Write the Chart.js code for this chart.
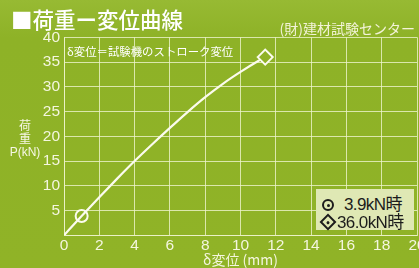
<!DOCTYPE html>
<html>
<head>
<meta charset="utf-8">
<script src="https://cdn.jsdelivr.net/npm/chart.js@4/dist/chart.umd.min.js"></script>
<style>
  html, body { margin: 0; padding: 0; overflow: hidden; }
  #wrap {
    position: relative; width: 419px; height: 268px;
    background: linear-gradient(to bottom, #97ba33 0%, #8eb227 14%, #90b327 100%);
    font-family: "Noto Sans CJK JP", "Liberation Sans", sans-serif;
    color: #f6f7e4;
  }
  #wrap canvas { position: absolute; left: 0; top: 0; }
  .lbl { position: absolute; white-space: nowrap; line-height: 1; }
  #title { left: 11px; top: 8px; font-size: 21.5px; font-weight: 500; color: #fff; }
  #org { right: 4px; top: 21px; font-size: 14px; color: #f3f3d8; }
  #note { left: 67px; top: 46px; font-size: 11.4px; color: #fff; }
  #ylab { left: 9px; top: 118px; width: 32px; text-align: center; font-size: 12px; line-height: 13px; }
  #ylab span { font-family: "Liberation Sans", sans-serif; }
  #legend {
    position: absolute; left: 316px; top: 189px; width: 98px; height: 41px;
    background: #dfe8b4; color: #1c1c1c;
    font-family: "Liberation Sans", "Noto Sans CJK JP", sans-serif; font-size: 17px; line-height: 17px;
    letter-spacing: -0.6px;
  }
  #legend .txt { position: absolute; white-space: nowrap; }
  #legend .mk { position: absolute; box-sizing: border-box; border: 2px solid #1c1c1c; }
  #legend .mk::after {
    content: ''; position: absolute; left: 50%; top: 50%; width: 3px; height: 3px;
    margin: -1.5px 0 0 -1.5px; background: #1c1c1c; border-radius: 50%;
  }
  #legend .circle { left: 6px; top: 10px; width: 12px; height: 12px; border-radius: 50%; }
  #legend .diamond { left: 5.5px; top: 27.3px; width: 12px; height: 12px; transform: rotate(45deg); }
</style>
</head>
<body>
<div id="wrap">
  <canvas id="chart" width="419" height="268"></canvas>
  <div class="lbl" id="title">■荷重ー変位曲線</div>
  <div class="lbl" id="org">(財)建材試験センター</div>
  <div class="lbl" id="note">δ変位＝試験機のストローク変位</div>
  <div class="lbl" id="ylab">荷<br>重<br><span>P(kN)</span></div>
  <div id="legend"></div>
</div>
<script>
// load-displacement curve
const dispMm = [0, 1, 2, 3, 4, 5, 6, 7, 8, 9, 10, 11, 11.4];
const loadKn = [0, 3.9, 7.7, 11.4, 15.0, 18.4, 21.7, 24.9, 27.9, 30.6, 33.0, 35.2, 36.0];

// marked points
const markX = [1.0, 11.4];
const markY = [3.9, 36.0];
const markLabels = ['3.9kN時', '36.0kN時'];

const xTicks = [0, 2, 4, 6, 8, 10, 12, 14, 16, 18, 20];
const yTicks = [0, 5, 10, 15, 20, 25, 30, 35, 40];

const bgGreen = '#8fb226';
const gridColor = 'rgba(238, 244, 205, 0.8)';
const textColor = '#f4f6df';

// legend box: marker shape + label per row
const legendRows = [
  { cls: 'circle', left: 28, top: 7 },
  { cls: 'diamond', left: 21, top: 24.8 }
];
document.getElementById('legend').innerHTML = markLabels.map((t, i) =>
  '<div class="mk ' + legendRows[i].cls + '"></div>' +
  '<div class="txt" style="left:' + legendRows[i].left + 'px;top:' + legendRows[i].top + 'px">' + t + '</div>'
).join('');

new Chart(document.getElementById('chart'), {
  type: 'line',
  data: {
    datasets: [
      {
        type: 'scatter',
        data: markX.map((x, i) => ({ x: x, y: markY[i] })),
        pointStyle: ['circle', 'rectRot'],
        pointRadius: [6, 7.5],
        pointBorderWidth: 2,
        pointBorderColor: '#fbfbee',
        pointBackgroundColor: ['rgba(0,0,0,0)', bgGreen],
        showLine: false,
        order: 0
      },
      {
        data: dispMm.map((x, i) => ({ x: x, y: loadKn[i] })),
        borderColor: '#fbfbee',
        borderWidth: 2.2,
        pointRadius: 0,
        cubicInterpolationMode: 'monotone',
        fill: false,
        order: 1
      }
    ]
  },
  options: {
    responsive: false,
    animation: false,
    events: [],
    layout: { autoPadding: false, padding: { left: 0, right: 2, top: 37.3, bottom: 0 } },
    plugins: { legend: { display: false }, tooltip: { enabled: false } },
    scales: {
      x: {
        type: 'linear',
        min: 0, max: 20,
        afterBuildTicks: s => { s.ticks = xTicks.map(v => ({ value: v })); },
        afterFit: s => { s.height = 32.7; s.paddingLeft = 0; s.paddingRight = 0; },
        grid: { color: gridColor, lineWidth: 1, drawTicks: false },
        border: { color: gridColor },
        ticks: {
          color: textColor, padding: 1, maxRotation: 0, autoSkip: false,
          font: { family: 'Liberation Sans', size: 15.5 }
        },
        title: {
          display: true, text: 'δ変位 (mm)', color: textColor,
          font: { family: 'Noto Sans CJK JP', size: 14 },
          padding: { top: 0, bottom: 0 }
        }
      },
      y: {
        min: 0, max: 40,
        afterBuildTicks: s => { s.ticks = yTicks.map(v => ({ value: v })); },
        afterFit: s => { s.width = 64; },
        grid: { color: gridColor, lineWidth: 1, drawTicks: false },
        border: { color: gridColor },
        ticks: {
          color: textColor, padding: 4,
          font: { family: 'Liberation Sans', size: 15.5 },
          callback: v => (v === 0 ? '' : v)
        }
      }
    }
  }
});
</script>
</body>
</html>
